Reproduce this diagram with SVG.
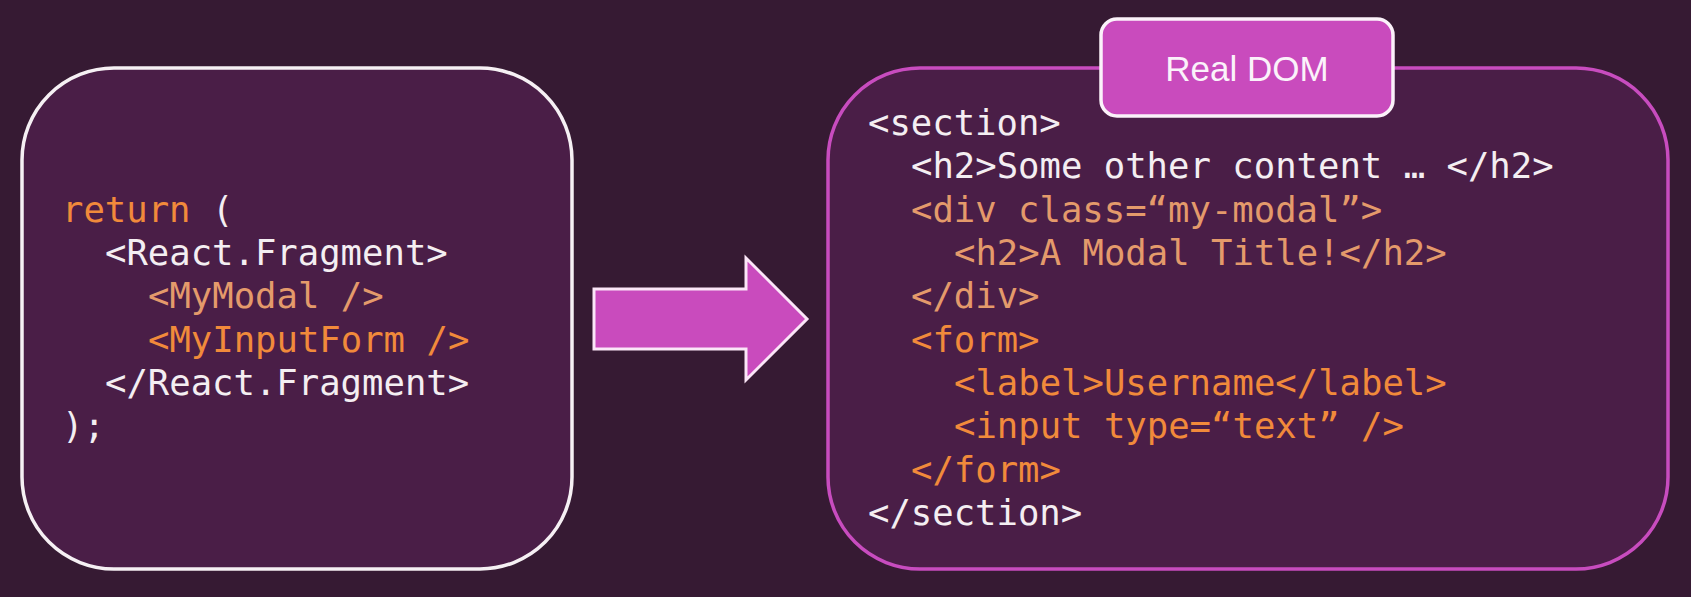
<svg xmlns="http://www.w3.org/2000/svg" width="1691" height="597" viewBox="0 0 1691 597">
<style>
.code{font-family:"DejaVu Sans Mono","Liberation Mono",monospace;font-size:35.6px;}
.w{fill:#f4eef2;}
.o{fill:#f18a3b;}
.p{fill:#e49a6b;}
.box{fill:#4a1e47;stroke-width:3.5;}
.lbl{font-family:"Liberation Sans","Noto Sans",sans-serif;font-size:35px;fill:#fbf2fa;}
</style>
<rect x="0" y="0" width="1691" height="597" fill="#361a33"/>
<g id="jsx-box">
<rect class="box" x="22" y="68" width="550" height="501" rx="92" stroke="#f6f0f4"/>
<text class="code" xml:space="preserve"><tspan x="62" y="222"><tspan class="o">return</tspan><tspan class="w"> (</tspan></tspan><tspan class="w" x="105" y="265">&lt;React.Fragment&gt;</tspan><tspan class="p" x="148" y="308">&lt;MyModal /&gt;</tspan><tspan class="o" x="148" y="352">&lt;MyInputForm /&gt;</tspan><tspan class="w" x="105" y="395">&lt;/React.Fragment&gt;</tspan><tspan class="w" x="62" y="438">);</tspan></text>
</g>
<g id="connectors">
<polygon points="594,289 746,289 746,258 807,319 746,380 746,349 594,349" fill="#c94bbd" stroke="#fbe6f8" stroke-width="3" stroke-linejoin="miter"/>
</g>
<g id="real-dom-box">
<rect class="box" x="828" y="68" width="840" height="501" rx="92" stroke="#c84cbf"/>
<text class="code" xml:space="preserve"><tspan class="w" x="868" y="135">&lt;section&gt;</tspan><tspan class="w" x="911" y="178">&lt;h2&gt;Some other content … &lt;/h2&gt;</tspan><tspan class="p" x="911" y="222">&lt;div class=“my-modal”&gt;</tspan><tspan class="p" x="954" y="265">&lt;h2&gt;A Modal Title!&lt;/h2&gt;</tspan><tspan class="p" x="911" y="308">&lt;/div&gt;</tspan><tspan class="o" x="911" y="352">&lt;form&gt;</tspan><tspan class="o" x="954" y="395">&lt;label&gt;Username&lt;/label&gt;</tspan><tspan class="o" x="954" y="438">&lt;input type=“text” /&gt;</tspan><tspan class="o" x="911" y="482">&lt;/form&gt;</tspan><tspan class="w" x="868" y="525">&lt;/section&gt;</tspan></text>
</g>
<g id="real-dom-label">
<rect x="1101" y="19" width="292" height="97" rx="16" fill="#c94bbd" stroke="#fbf2fa" stroke-width="3.5"/>
<text class="lbl" x="1247" y="81" text-anchor="middle">Real DOM</text>
</g>
</svg>
